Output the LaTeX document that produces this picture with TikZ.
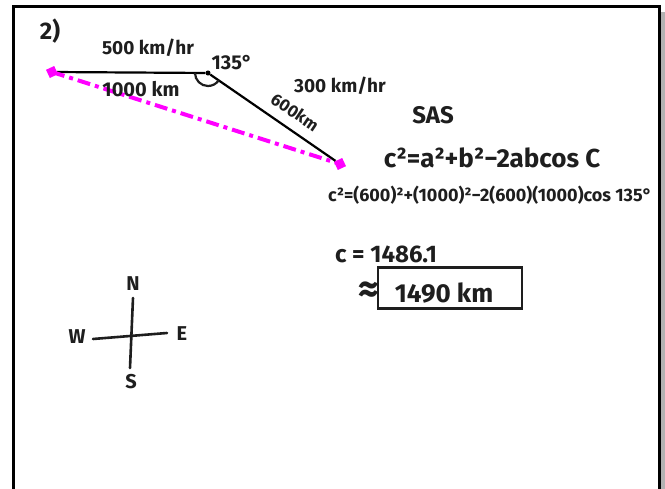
\documentclass[tikz,border=0pt]{standalone}
\usepackage{fontspec}
\setmainfont{Fira Sans}
\definecolor{pen}{RGB}{255,0,255}
\definecolor{ink}{RGB}{30,30,30}

\begin{document}
\begin{tikzpicture}[x=1pt,y=-1pt,
  hand/.style={text=ink,inner sep=0pt,font=\fontsize{#1}{#1}\selectfont\bfseries},
  dot/.style={fill=pen,rotate=25,minimum size=9pt,inner sep=0pt}]
  \useasboundingbox (0,0) rectangle (665,489);
  \fill[gray!60] (659,12) rectangle (665,489);
  \draw[line width=3pt] (13,489) -- (13,7) -- (659,7) -- (659,489);
  \node[hand=24] (num) at (50,31) {2)};
  \node[dot] (A) at (52,72) {};
  \node[circle,fill,inner sep=1.8pt] (B) at (208,73) {};
  \node[dot] (C) at (340,164) {};
  \draw[line width=2.2pt] (A) -- (B) -- (C);
  \draw[pen,line width=4pt,dash pattern=on 13pt off 5pt on 4pt off 5pt] (A.center) -- (C.center);
  \draw[ink,line width=2.2pt] (B) ++(180:13) arc[start angle=180,end angle=34,radius=13];
  \node[hand=19] (v1) at (148,48) {500 km/hr};
  \node[hand=20] (ang) at (232,63) {135°};
  \node[hand=20] (d1) at (141,89) {1000 km};
  \node[hand=19] (v2) at (340,86) {300 km/hr};
  \node[hand=17,rotate=-34] (d2) at (295,112) {600km};
  \node[hand=24] (sas) at (433,115) {SAS};
  \node[hand=26] (law) at (492,158) {c²=a²+b²−2abcos C};
  \node[hand=18] (sub) at (490,195) {c²=(600)²+(1000)²−2(600)(1000)cos 135°};
  \node[hand=24] (res) at (386,254) {c = 1486.1};
  \node[hand=40] (apx) at (369,292) {≈};
  \node[draw=ink,line width=2.4pt,minimum width=144pt,minimum height=41pt] (ans) at (450,288) {};
  \node[hand=26] (fin) at (444,293) {1490 km};
  \coordinate (n) at (133,298);
  \coordinate (s) at (130,368);
  \coordinate (w) at (93,339);
  \coordinate (e) at (167,333);
  \draw[ink,line width=2.6pt,line cap=round] (n) -- (s);
  \draw[ink,line width=2.6pt,line cap=round] (w) -- (e);
  \node[hand=20] (N) at (133,284) {N};
  \node[hand=20] (S) at (131,382) {S};
  \node[hand=20] (W) at (77,337) {W};
  \node[hand=20] (E) at (182,334) {E};
\end{tikzpicture}
\end{document}
